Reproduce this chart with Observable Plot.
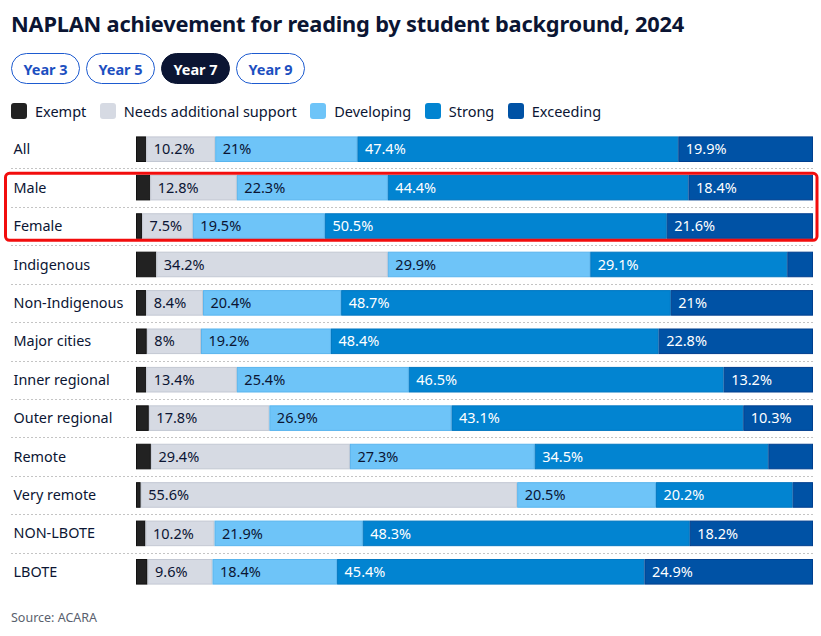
<!DOCTYPE html>
<html><head><meta charset="utf-8">
<script src="https://cdn.jsdelivr.net/npm/d3@7"></script>
<script src="https://cdn.jsdelivr.net/npm/@observablehq/plot@0.6"></script>
<style>
html,body{margin:0;padding:0;background:#fff}
body{width:821px;height:636px;overflow:hidden;position:relative;font-family:"Noto Sans",sans-serif;color:#0b1533}
#title{position:absolute;left:11px;top:9px;font-size:21.8px;font-weight:700;letter-spacing:-0.2px;white-space:nowrap}
#buttons{position:absolute;left:11px;top:53px;display:flex;gap:6px}
.btn{box-sizing:border-box;width:69px;height:31px;border:1.5px solid #1d5bd0;border-radius:16px;color:#1d4fc0;font-weight:700;font-size:14.5px;display:flex;align-items:center;justify-content:center}
.btn.on{background:#0b1533;border-color:#0b1533;color:#fff}
#legend{position:absolute;left:11px;top:101px;display:flex;align-items:center;font-size:14.5px;white-space:nowrap}
.sw{width:16px;height:16px;border-radius:3px;margin-right:8px}
.li{display:flex;align-items:center;margin-right:13.5px}
#chart{position:absolute;left:0;top:130px;line-height:0}
#source{position:absolute;left:11px;top:609px;font-size:12.5px;color:#5a5f6e}
</style></head>
<body>
<div id="title">NAPLAN achievement for reading by student background, 2024</div>
<div id="buttons"></div>
<div id="legend"></div>
<div id="chart"></div>
<div id="source">Source: ACARA</div>
<script>
const years = ["Year 3","Year 5","Year 7","Year 9"];
const selectedYear = "Year 7";
const levels = ["Exempt","Needs additional support","Developing","Strong","Exceeding"];
const colors = ["#222222","#d6dae3","#6ec4f8","#0284d1","#0052a5"];
const strokes = ["#111111","#c3c8d3","#5ab5ee","#0278c2","#003f8f"];
const groups = ["All","Male","Female","Indigenous","Non-Indigenous","Major cities","Inner regional","Outer regional","Remote","Very remote","NON-LBOTE","LBOTE"];
const exempt     = [1.5, 2.1, 0.9, 3.0, 1.5, 1.6, 1.5, 1.9, 2.2, 0.7, 1.4, 1.7];
const needs      = [10.2,12.8,7.5,34.2,8.4, 8,   13.4,17.8,29.4,55.6,10.2,9.6];
const developing = [21,  22.3,19.5,29.9,20.4,19.2,25.4,26.9,27.3,20.5,21.9,18.4];
const strong     = [47.4,44.4,50.5,29.1,48.7,48.4,46.5,43.1,34.5,20.2,48.3,45.4];
const exceeding  = [19.9,18.4,21.6,3.8, 21,  22.8,13.2,10.3,6.6, 3.0, 18.2,24.9];
const highlighted = ["Male","Female"];

// header
const bwrap = document.getElementById("buttons");
years.forEach(y => { const d = document.createElement("div"); d.className = "btn" + (y === selectedYear ? " on" : ""); d.textContent = y; bwrap.appendChild(d); });
const lwrap = document.getElementById("legend");
levels.forEach((l, i) => { const d = document.createElement("div"); d.className = "li"; d.innerHTML = `<span class="sw" style="background:${colors[i]}"></span><span>${l}</span>`; lwrap.appendChild(d); });

const series = [exempt, needs, developing, strong, exceeding];
const data = [];
groups.forEach((g, gi) => levels.forEach((l, li) => data.push({group: g, level: l, li, value: series[li][gi]})));

const showLabel = d => d.li > 0 && d.value >= 7;
const fmt = d => d.value + "%";

const W = 821, H = 461;
const plot = Plot.plot({
  width: W, height: H,
  marginLeft: 136, marginRight: 8, marginTop: 0, marginBottom: 0,
  x: {domain: [0, 100], axis: null},
  y: {domain: groups, axis: null, paddingInner: 0.36, paddingOuter: 0.18, round: false},
  color: {domain: levels, range: colors},
  style: {fontFamily: "Noto Sans, sans-serif", overflow: "visible"},
  marks: [
    Plot.barX(data, {x: "value", y: "group", fill: "level", stroke: d => strokes[d.li], strokeWidth: 1, insetLeft: 0.5, insetRight: 0.5}),
    Plot.text(data, Plot.stackX1({x: "value", y: "group", z: "level", text: d => showLabel(d) && d.li <= 2 ? fmt(d) : null, textAnchor: "start", dx: 7, fill: "#0b1533", fontSize: 14.5})),
    Plot.text(data, Plot.stackX1({x: "value", y: "group", z: "level", text: d => showLabel(d) && d.li >= 3 ? fmt(d) : null, textAnchor: "start", dx: 7, fill: "#ffffff", fontSize: 14.5})),
    Plot.text(groups, {y: d => d, text: d => d, frameAnchor: "left", dx: -123, textAnchor: "start", fill: "#0b1533", fontSize: 14.4})
  ]
});
document.getElementById("chart").appendChild(plot);

// separators and highlight box from the plot's y scale
const ys = plot.scale("y");
const xs = plot.scale("x");
const step = ys.step, bw = ys.bandwidth, gap = step - bw;
const svg = d3.select(plot);
const sep = svg.insert("g", ":first-child");
groups.slice(1).forEach(g => {
  const yy = Math.round(ys.apply(g) - gap / 2) + 0.5;
  sep.append("line").attr("x1", 11).attr("x2", xs.apply(100)).attr("y1", yy).attr("y2", yy)
    .attr("stroke", "#c4c4c4").attr("stroke-width", 1).attr("stroke-dasharray", "2,2");
});
const boxTop = ys.apply(highlighted[0]) - 2;
const boxBot = ys.apply(highlighted[highlighted.length - 1]) + bw + 2;
svg.append("rect").attr("x", 5.5).attr("y", boxTop).attr("width", 817 - 5.5).attr("height", boxBot - boxTop)
  .attr("rx", 4).attr("fill", "none").attr("stroke", "#f20d0d").attr("stroke-width", 3);
</script>
</body></html>
